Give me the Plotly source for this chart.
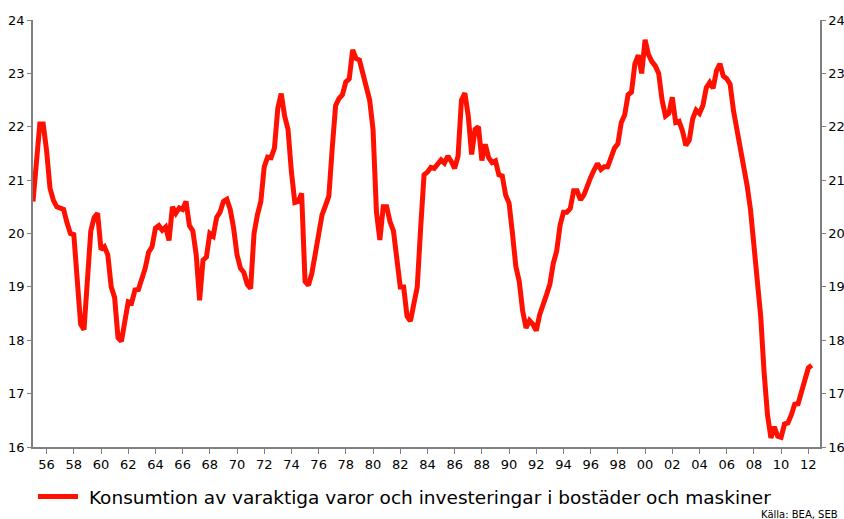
import plotly.graph_objects as go

# Quarterly share (%), 1955Q1 .. 2012Q2
start_year = 1955
values = [
    20.6, 21.35, 22.05, 22.05, 21.55, 20.85, 20.62, 20.5, 20.47, 20.45,
    20.2, 20.0, 19.98, 19.0, 18.3, 18.2, 19.3, 20.05, 20.3, 20.38,
    19.7, 19.75, 19.6, 19.0, 18.8, 18.05, 17.98, 18.3, 18.72, 18.7,
    18.94, 18.95, 19.15, 19.35, 19.65, 19.75, 20.1, 20.15, 20.06, 20.12,
    19.87, 20.5, 20.38, 20.48, 20.45, 20.6, 20.15, 20.05, 19.6, 18.75,
    19.5, 19.56, 20.0, 19.95, 20.3, 20.4, 20.6, 20.64, 20.45, 20.1,
    19.6, 19.35, 19.27, 19.05, 18.97, 20.0, 20.35, 20.6, 21.25, 21.43,
    21.42, 21.6, 22.35, 22.62, 22.2, 21.95, 21.15, 20.58, 20.6, 20.75,
    19.1, 19.03, 19.25, 19.63, 19.9, 20.35, 20.52, 20.7, 21.6, 22.4,
    22.53, 22.6, 22.84, 22.9, 23.44, 23.28, 23.25, 23.0, 22.84, 22.5,
    21.95, 20.4, 19.88, 20.5, 20.5, 20.22, 20.05, 19.6, 19.0, 19.0,
    18.45, 18.36, 18.65, 19.0, 20.1, 21.1, 21.15, 21.24, 21.22, 21.3,
    21.38, 21.32, 21.45, 21.35, 21.22, 21.45, 22.5, 22.63, 22.2, 21.48,
    21.95, 22.0, 21.37, 21.67, 21.42, 21.33, 21.36, 21.1, 21.08, 20.72,
    20.57, 20.0, 19.38, 19.1, 18.55, 18.23, 18.37, 18.3, 18.18, 18.48,
    18.7, 18.85, 19.05, 19.44, 19.67, 20.15, 20.4, 20.4, 20.47, 20.8,
    20.8, 20.63, 20.72, 20.92, 21.05, 21.19, 21.31, 21.2, 21.25, 21.25,
    21.4, 21.6, 21.68, 22.08, 22.22, 22.6, 22.65, 23.18, 23.34, 23.0,
    23.63, 23.35, 23.22, 23.14, 23.0, 22.5, 22.2, 22.25, 22.55, 22.08,
    22.1, 21.92, 21.65, 21.75, 22.15, 22.31, 22.25, 22.4, 22.73, 22.83,
    22.72, 23.05, 23.18, 22.95, 22.9, 22.8, 22.3, 21.95, 21.6, 21.33,
    20.9, 20.45, 19.85, 19.06, 18.45, 17.4, 16.6, 16.17, 16.38, 16.2,
    16.18, 16.43, 16.45, 16.6, 16.8, 16.81, 17.05, 17.3, 17.48, 17.53,
]
dates = [start_year + i / 4 for i in range(len(values))]

tick_years = list(range(1956, 2013, 2))
tick_labels = [f"{y % 100:02d}" for y in tick_years]
y_ticks = [16, 17, 18, 19, 20, 21, 22, 23, 24]

series_name = "Konsumtion av varaktiga varor och investeringar i bostäder och maskiner"
source_text = "Källa: BEA, SEB"

fig = go.Figure()
fig.add_trace(go.Scatter(
    x=dates, y=values, mode="lines", name="\u00a0" + series_name,
    line=dict(color="#FF1000", width=5),
))
fig.add_trace(go.Scatter(
    x=dates, y=values, mode="lines", yaxis="y2", showlegend=False,
    line=dict(color="rgba(0,0,0,0)", width=0), hoverinfo="skip",
))

axis_font = dict(family="DejaVu Sans, Verdana, sans-serif", size=13, color="#000000")
fig.update_layout(
    template="none",
    width=844, height=519,
    margin=dict(l=33, r=24, t=20, b=72, autoexpand=False),
    paper_bgcolor="white", plot_bgcolor="white",
    showlegend=True,
    xaxis=dict(
        range=[1955, 2012.86], tickmode="array", tickvals=tick_years, ticktext=tick_labels,
        showgrid=False, zeroline=False, showline=True, linecolor="#808080", linewidth=1.5,
        ticks="outside", ticklen=5, tickcolor="#808080", tickfont=axis_font, automargin=False,
    ),
    yaxis=dict(
        range=[16, 24], tickmode="array", tickvals=y_ticks, showgrid=False, zeroline=False,
        showline=True, linecolor="#808080", linewidth=1.5,
        ticks="outside", ticklen=4, tickcolor="#808080", tickfont=axis_font, automargin=False,
    ),
    yaxis2=dict(
        range=[16, 24], tickmode="array", tickvals=y_ticks, overlaying="y", side="right",
        showgrid=False, zeroline=False, showline=True, linecolor="#808080", linewidth=1.5,
        ticks="outside", ticklen=4, tickcolor="#808080", tickfont=axis_font, automargin=False,
    ),
    legend=dict(
        orientation="h", x=0.0, xanchor="left", y=-0.117, yanchor="middle",
        font=dict(family="DejaVu Sans, Verdana, sans-serif", size=18.5, color="#000000"),
        itemwidth=40, bgcolor="rgba(0,0,0,0)",
    ),
    annotations=[dict(
        text=source_text, xref="paper", yref="paper", x=1.025, y=-0.157,
        xanchor="right", yanchor="middle", showarrow=False,
        font=dict(family="DejaVu Sans, Verdana, sans-serif", size=10, color="#000000"),
    )],
)

fig.write_html(
    "out.html",
    config={"displayModeBar": False},
    post_script="document.body.style.margin='0';document.body.style.overflow='hidden';",
)
